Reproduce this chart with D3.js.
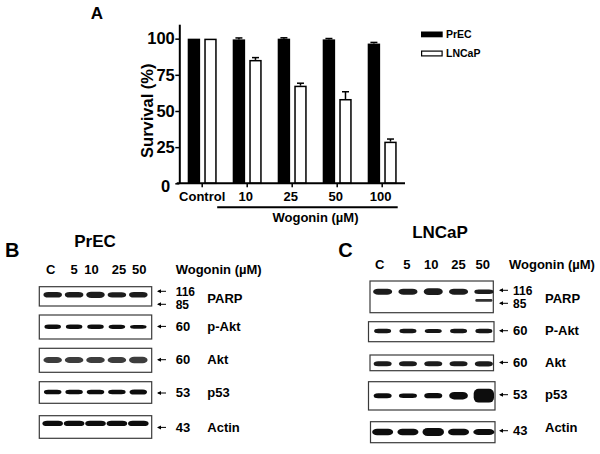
<!DOCTYPE html>
<html>
<head>
<meta charset="utf-8">
<script src="https://cdn.jsdelivr.net/npm/d3@7"></script>
<style>
  html, body { margin: 0; padding: 0; background: #fff; }
  svg { display: block; font-family: "Liberation Sans", Arial, sans-serif; font-weight: bold; }
</style>
</head>
<body>
<svg id="fig" width="600" height="454"></svg>
<script>
// ---------- DATA ----------
const categories = ["Control", "10", "25", "50", "100"];
const seriesNames = ["PrEC", "LNCaP"];
const precSurvival = [100, 99.5, 100, 99.5, 96.6];
const precError = [0, 1.0, 0.6, 0.6, 0.8];
const lncapSurvival = [100, 85.3, 67.5, 58.3, 28.8];
const lncapError = [0, 1.6, 1.7, 5.0, 1.8];
const yTickValues = [0, 25, 50, 75, 100];

const lanes = ["C", "5", "10", "25", "50"];
const proteinsB = ["PARP", "p-Akt", "Akt", "p53", "Actin"];
const proteinsC = ["PARP", "P-Akt", "Akt", "p53", "Actin"];
const markersB = [["116", "85"], ["60"], ["60"], ["53"], ["43"]];
const markersC = [["116", "85"], ["60"], ["60"], ["53"], ["43"]];
// relative band intensity per lane (C, 5, 10, 25, 50)
const bandsB = [
  [1.0, 1.0, 1.1, 0.95, 1.0],
  [1.0, 1.0, 1.0, 0.95, 0.85],
  [1.0, 1.0, 1.0, 1.0, 1.05],
  [1.0, 0.95, 1.0, 0.95, 1.1],
  [1.0, 1.0, 1.0, 1.0, 1.0]
];
const bandsC = [
  [1.0, 1.0, 1.1, 1.0, 0.75],
  [1.0, 1.0, 0.95, 1.0, 1.0],
  [1.0, 1.0, 1.0, 1.0, 1.05],
  [1.0, 0.9, 1.05, 1.45, 2.6],
  [1.1, 1.1, 1.3, 1.1, 1.0]
];
const cleavedParpC = [0, 0, 0, 0, 0.6];

// ---------- SETUP ----------
const svg = d3.select("#fig");
const defs = svg.append("defs");
defs.append("filter").attr("id", "blur").attr("x", "-20%").attr("y", "-60%").attr("width", "140%").attr("height", "220%")
  .append("feGaussianBlur").attr("stdDeviation", 0.7);

// ---------- PANEL A ----------
const gA = svg.append("g");
gA.append("text").attr("x", 97).attr("y", 18.5).attr("text-anchor", "middle")
  .attr("font-size", 17).text("A");

const x0 = d3.scaleBand().domain(categories).range([179.7, 404.7]).padding(0);
const x1 = d3.scaleBand().domain(seriesNames).range([8, 37]).paddingInner(0.25);
const y = d3.scaleLinear().domain([0, 110]).range([183.3, 24.2]);

const rows = categories.map((c, i) => ({
  cat: c,
  vals: [
    { s: "PrEC", v: precSurvival[i], e: precError[i] },
    { s: "LNCaP", v: lncapSurvival[i], e: lncapError[i] }
  ]
}));

const groups = gA.selectAll("g.grp").data(rows).join("g").attr("class", "grp")
  .attr("transform", d => `translate(${x0(d.cat)},0)`);

// error bars (up only)
groups.selectAll("g.err").data(d => d.vals.filter(v => v.e > 0)).join("g").attr("class", "err")
  .each(function (d) {
    const g = d3.select(this);
    const cx = x1(d.s) + x1.bandwidth() / 2;
    g.append("line").attr("x1", cx).attr("x2", cx).attr("y1", y(d.v)).attr("y2", y(d.v + d.e))
      .attr("stroke", "#000").attr("stroke-width", 1.5);
    g.append("line").attr("x1", cx - 3.5).attr("x2", cx + 3.5).attr("y1", y(d.v + d.e)).attr("y2", y(d.v + d.e))
      .attr("stroke", "#000").attr("stroke-width", 1.5);
  });

groups.selectAll("rect").data(d => d.vals).join("rect")
  .attr("x", d => x1(d.s) + (d.s === "LNCaP" ? 0.75 : 0))
  .attr("width", d => x1.bandwidth() - (d.s === "LNCaP" ? 1.5 : 0))
  .attr("y", d => y(d.v) + (d.s === "LNCaP" ? 0.75 : 0))
  .attr("height", d => y(0) - y(d.v) - (d.s === "LNCaP" ? 0.75 : 0))
  .attr("fill", d => d.s === "PrEC" ? "#000" : "#fff")
  .attr("stroke", d => d.s === "PrEC" ? "none" : "#000")
  .attr("stroke-width", 1.5);

// y axis
const yAxis = gA.append("g").attr("transform", "translate(179.3,0)")
  .call(d3.axisLeft(y).tickValues(yTickValues).tickSize(4).tickSizeOuter(0).tickPadding(0.5));
yAxis.select(".domain").attr("stroke-width", 2);
yAxis.selectAll(".tick line").attr("stroke-width", 1.5);
yAxis.selectAll(".tick text").attr("font-size", 16.5).attr("font-family", "Liberation Sans, Arial, sans-serif")
  .attr("font-weight", "bold").attr("fill", "#000");
yAxis.selectAll(".tick").filter(d => d === 0).select("text").attr("dx", -4.5).attr("dy", "0.5em");

// x axis
const xAxis = gA.append("g").attr("transform", "translate(0,183.3)")
  .call(d3.axisBottom(x0).tickSize(4).tickSizeOuter(0).tickPadding(4.5));
xAxis.select(".domain").attr("d", "M176.7,0H405").attr("stroke-width", 2);
xAxis.selectAll(".tick line").attr("stroke-width", 1.5);
xAxis.selectAll(".tick text").attr("font-size", 13).attr("font-family", "Liberation Sans, Arial, sans-serif")
  .attr("font-weight", "bold").attr("fill", "#000").attr("dx", (d, i) => i === 0 ? 0 : -1.5);

// y title
gA.append("text").attr("transform", "translate(152.5,110.7) rotate(-90)").attr("text-anchor", "middle")
  .attr("font-size", 16.5).text("Survival (%)");

// treatment underline & label
gA.append("line").attr("x1", x0("10") - 7.5).attr("x2", x0("100") + 38).attr("y1", 207.3).attr("y2", 207.3)
  .attr("stroke", "#000").attr("stroke-width", 2);
gA.append("text").attr("x", 315.5).attr("y", 221.7).attr("text-anchor", "middle").attr("font-size", 13)
  .text("Wogonin (\u00B5M)");

// legend
const leg = gA.append("g").attr("transform", "translate(421,31.5)");
seriesNames.forEach((s, i) => {
  const g = leg.append("g").attr("transform", `translate(0,${i * 19})`);
  g.append("rect").attr("x", s === "PrEC" ? 0 : 0.6).attr("y", s === "PrEC" ? 0 : 0.6)
    .attr("width", s === "PrEC" ? 21.7 : 20.5).attr("height", s === "PrEC" ? 5.8 : 4.8)
    .attr("fill", s === "PrEC" ? "#000" : "#fff").attr("stroke", s === "PrEC" ? "none" : "#000").attr("stroke-width", 1.2);
  g.append("text").attr("x", 25).attr("y", 6.8).attr("font-size", 10.5).text(s);
});

// ---------- BLOT PANELS ----------
function arrow(g, x, yy) {
  g.append("path").attr("d", `M${x + 9},${yy}H${x + 1}`).attr("stroke", "#000").attr("stroke-width", 1).attr("fill", "none");
  g.append("path").attr("d", `M${x},${yy}L${x + 4},${yy - 2}L${x + 4},${yy + 2}Z`).attr("fill", "#000");
}

function drawBlot(cfg) {
  const g = svg.append("g");
  g.append("text").attr("x", cfg.letter[0]).attr("y", cfg.letter[1]).attr("font-size", 20).text(cfg.letterText);
  g.append("text").attr("x", cfg.title[0]).attr("y", cfg.title[1]).attr("text-anchor", "middle")
    .attr("font-size", 17).text(cfg.titleText);

  const lx = d3.scaleBand().domain(lanes).range(cfg.laneRange).padding(0);
  const laneW = lx.bandwidth();

  g.selectAll("text.lane").data(lanes).join("text").attr("class", "lane")
    .attr("x", (d, i) => lx(d) + laneW / 2 + cfg.labelShift[i]).attr("y", cfg.laneY)
    .attr("text-anchor", "middle").attr("font-size", 13).text(d => d);
  g.append("text").attr("x", cfg.wogX).attr("y", cfg.laneY).attr("font-size", 13).text("Wogonin (\u00B5M)");

  cfg.proteins.forEach((p, r) => {
    const box = cfg.boxes[r];
    g.append("rect").attr("x", box[0]).attr("y", box[1]).attr("width", box[2] - box[0]).attr("height", box[3] - box[1])
      .attr("fill", "#fff").attr("stroke", "#3a3a3a").attr("stroke-width", 1.2);
    const st = cfg.styles[r];
    const bg = g.append("g").attr("filter", "url(#blur)");
    bg.selectAll("rect.band").data(cfg.bands[r]).join("rect").attr("class", "band")
      .each(function (v, i) {
        const h = st.h * (v <= 1 ? v : 1 + (v - 1) * 1.1);
        const w = st.w * (v > 1.2 ? 1 + (v - 1) * 0.08 : 1);
        const cx = lx(lanes[i]) + laneW / 2 + st.dx;
        d3.select(this).attr("x", cx - w / 2).attr("y", st.y - h / 2).attr("width", w).attr("height", h)
          .attr("rx", Math.min(w / 2, h / 2 + 2, 5)).attr("ry", Math.min(h / 2, 5)).attr("fill", st.color);
      });
    if (r === 0 && cfg.cleaved) {
      bg.selectAll("rect.cl").data(cfg.cleaved).join("rect").attr("class", "cl")
        .filter(v => v > 0)
        .each(function (v) {
          const i = cfg.cleaved.indexOf(v);
          const cx = lx(lanes[i]) + laneW / 2 + st.dx;
          const w = st.w * 0.9, h = 3 * v + 0.8;
          d3.select(this).attr("x", cx - w / 2).attr("y", cfg.cleavedY - h / 2).attr("width", w).attr("height", h)
            .attr("rx", h / 2).attr("fill", "#333");
        });
    }
    const mk = cfg.markers[r];
    mk.forEach((m, k) => {
      const by = cfg.markerY[r][k];
      arrow(g, cfg.arrowX, by - 4.3);
      g.append("text").attr("x", cfg.mwX).attr("y", by).attr("font-size", mk.length > 1 ? 12 : 13).text(m);
    });
    g.append("text").attr("x", cfg.nameX).attr("y", cfg.nameY[r]).attr("font-size", 13).text(p);
  });
}

drawBlot({
  letterText: "B", letter: [5, 257.3], titleText: "PrEC", title: [95, 246.7],
  laneRange: [42, 149], laneY: 274, labelShift: [-2, 0, -4, 2, 1], wogX: 175.7,
  proteins: proteinsB, markers: markersB, bands: bandsB,
  boxes: [[39.3, 286.7, 151.7, 306], [39.3, 315, 151.7, 339], [39.3, 348.3, 151.7, 372.3], [39.3, 381.7, 151.7, 403.3], [39.3, 415.7, 151.7, 438.3]],
  styles: [
    { y: 294.8, h: 5.6, w: 18.5, color: "#1e1e1e", dx: 0 },
    { y: 326.8, h: 4.5, w: 16.5, color: "#111", dx: 0 },
    { y: 360, h: 6.0, w: 18.5, color: "#3c3c3c", dx: 0 },
    { y: 392, h: 4.6, w: 17.5, color: "#111", dx: 0 },
    { y: 423.4, h: 5.4, w: 20.5, color: "#0c0c0c", dx: 0 }
  ],
  arrowX: 157, mwX: 175.7, nameX: 207.3,
  markerY: [[295.6, 308.6], [330.7], [364], [397.3], [431.7]],
  nameY: [302.7, 330.7, 364, 397.3, 431.7]
});

drawBlot({
  letterText: "C", letter: [338.3, 257.3], titleText: "LNCaP", title: [440, 238.3],
  laneRange: [370, 496.5], laneY: 269.3, labelShift: [-3, -1, -2, 0, -1], wogX: 509,
  proteins: proteinsC, markers: markersC, bands: bandsC, cleaved: cleavedParpC, cleavedY: 300.4,
  boxes: [[370, 281, 493.3, 312.7], [368.5, 321.7, 494, 341.7], [370, 355, 493.5, 370.7], [368.5, 381.7, 495, 410], [370.5, 421.7, 495, 442.7]],
  styles: [
    { y: 291.7, h: 6.0, w: 19, color: "#1a1a1a", dx: 0 },
    { y: 331, h: 4.4, w: 17, color: "#151515", dx: 0 },
    { y: 363.8, h: 5.0, w: 18, color: "#1e1e1e", dx: 0 },
    { y: 395.7, h: 5.0, w: 18, color: "#0c0c0c", dx: 0 },
    { y: 432, h: 6.0, w: 21, color: "#0a0a0a", dx: 0 }
  ],
  arrowX: 499, mwX: 513, nameX: 545,
  markerY: [[294.6, 307.6], [335], [366.7], [399], [435]],
  nameY: [303.3, 335, 366.7, 399, 432.3]
});
</script>
</body>
</html>
